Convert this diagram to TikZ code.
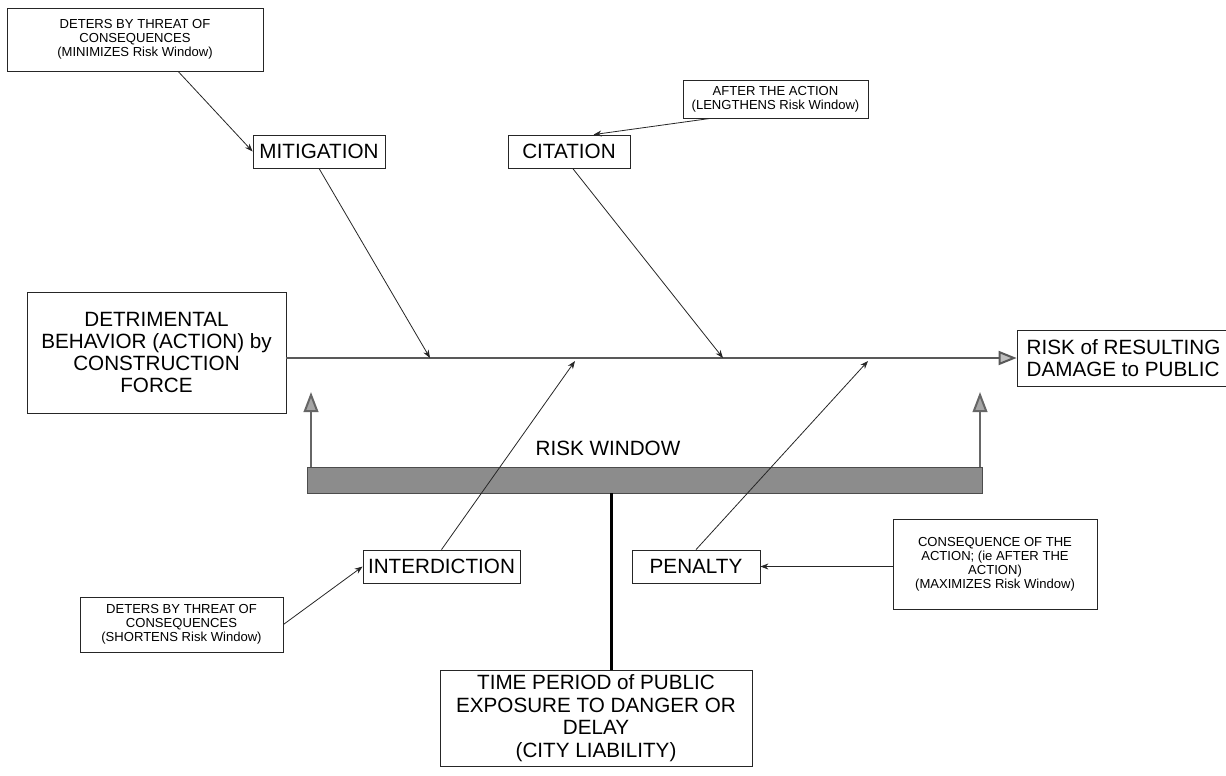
\documentclass[tikz,border=0pt]{standalone}
\usepackage{fontspec}
\setmainfont{Liberation Sans}
\usetikzlibrary{arrows.meta,fit,calc}
\begin{document}
\begin{tikzpicture}[x=0.75pt,y=-0.75pt,
  box/.style={draw=black!85,line width=0.6pt,inner sep=0pt,align=center},
  sz/.style 2 args={minimum width=#1*0.75pt,minimum height=#2*0.75pt},
  small/.style={font=\fontsize{9.8}{10.5}\selectfont},
  big/.style={font=\fontsize{15.5}{16.5}\selectfont},
  thinarrow/.style={draw=black!85,line width=0.6pt,-{Stealth[length=6pt,width=4.5pt]}},
  mainline/.style={draw=black!65,line width=1.5pt,-{Triangle[length=13.5pt,width=10.5pt,fill=black!25]}},
  uparrow/.style={draw=black!60,line width=1.5pt,-{Triangle[length=15pt,width=11pt,fill=black!35]}},
  barstyle/.style={fill=black!45,draw=black!70,line width=0.6pt,inner sep=0pt},
]
\useasboundingbox (0,0) rectangle (1226,775);
\clip (0,0) rectangle (1226,775);

% boxes
\node[box,small,sz={256}{63}] (tl) at (135,39.5) {DETERS BY THREAT OF\\CONSEQUENCES\\(MINIMIZES Risk Window)};
\node[box,big,sz={132}{33}] (mit) at (319,151.5) {MITIGATION};
\node[box,big,sz={122}{33}] (cit) at (569,151.5) {CITATION};
\node[box,small,sz={185}{38}] (ata) at (775.5,99) {AFTER THE ACTION\\(LENGTHENS Risk Window)};
\node[box,font=\fontsize{15.5}{16.6}\selectfont,sz={259}{121}] (det) at (156.5,352.5) {DETRIMENTAL\\BEHAVIOR (ACTION) by\\CONSTRUCTION\\FORCE};
\node[box,big,align=left,sz={213}{56}] (risk) at (1123.5,358) {RISK of RESULTING\\DAMAGE to PUBLIC};
\node[barstyle,fit={(307,467)(982,493)}] (bar) {};
\node[big] (rw) at (608,448) {RISK WINDOW};
\node[box,big,sz={157}{33}] (int) at (441.5,566.5) {INTERDICTION};
\node[box,big,sz={128}{33}] (pen) at (696,566.5) {PENALTY};
\node[box,small,sz={204}{90}] (cons) at (995,564) {CONSEQUENCE OF THE\\ACTION; (ie AFTER THE\\ACTION)\\(MAXIMIZES Risk Window)};
\node[box,small,sz={203}{55}] (dbl) at (181.5,624.5) {DETERS BY THREAT OF\\CONSEQUENCES\\(SHORTENS Risk Window)};
\node[box,font=\fontsize{15.5}{16.9}\selectfont,sz={312}{96}] (time) at (596,718) {TIME PERIOD of PUBLIC\\EXPOSURE TO DANGER OR\\DELAY\\(CITY LIABILITY)};

% points on the main line
\coordinate (p1) at (430,358);
\coordinate (p2) at (723,358);
\coordinate (p3) at (575,361);
\coordinate (p4) at (868,361);
\coordinate (u1) at (311,392);
\coordinate (u2) at (980,392);
\coordinate (tn) at ($(time.north west)!0.55!(time.north east)$);

% main line
\draw[mainline] (det.east |- risk.west) -- (risk.west);

% connectors
\draw[thinarrow] ($(tl.south west)!0.668!(tl.south east)$) -- (mit.west);
\draw[thinarrow] ($(ata.south west)!0.15!(ata.south east)$) -- ($(cit.north west)!0.7!(cit.north east)$);
\draw[thinarrow] (mit.south) -- (p1);
\draw[thinarrow] ($(cit.south west)!0.53!(cit.south east)$) -- (p2);
\draw[thinarrow] (int.north) -- (p3);
\draw[thinarrow] (pen.north) -- (p4);
\draw[thinarrow] (cons.west |- pen.east) -- (pen.east);
\draw[thinarrow] (dbl.east) -- (int.west);

% risk window arrows and time link
\draw[uparrow] (bar.north -| u1) -- (u1);
\draw[uparrow] (bar.north -| u2) -- (u2);
\draw[black,line width=1.8pt] (tn) -- (tn |- bar.south);
\end{tikzpicture}
\end{document}
